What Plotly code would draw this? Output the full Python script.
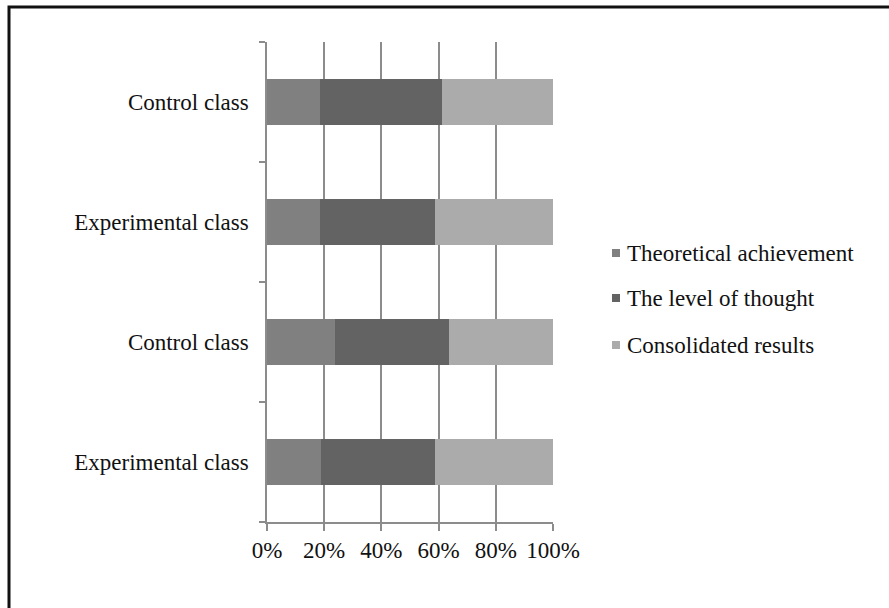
import plotly.graph_objects as go

# Groups listed bottom to top (same labels appear twice, so a numeric axis is used)
groups = ["Experimental class", "Control class", "Experimental class", "Control class"]
series_names = ["Theoretical achievement", "The level of thought", "Consolidated results"]
theoretical = [18.9, 23.8, 18.5, 18.5]
thought = [39.8, 39.9, 40.2, 42.7]
consolidated = [41.3, 36.3, 41.3, 38.8]
series_values = [theoretical, thought, consolidated]
colors = ["#808080", "#636363", "#ababab"]
x_ticks = [0, 20, 40, 60, 80, 100]
x_labels = ["0%", "20%", "40%", "60%", "80%", "100%"]

FONT = "Liberation Serif"
FSIZE = 23
GRID = "#8c8c8c"
positions = list(range(len(groups)))

# Plot area in pixels (used to place paper-referenced decorations)
W, H = 889, 608
L, R, T, B = 267, 336, 42, 86
PW, PH = W - L - R, H - T - B


def px_x(px):
    return (px - L) / PW


def px_y(py):
    return (H - B - py) / PH


fig = go.Figure()
for name, vals, col in zip(series_names, series_values, colors):
    fig.add_trace(go.Bar(
        y=positions, x=vals, name=name, orientation="h",
        marker=dict(color=col, line=dict(width=0)),
        width=0.385, showlegend=False,
    ))

# Hand-drawn legend: small squares plus text
leg_rows = [253, 298, 345]
for name, col, row in zip(series_names, colors, leg_rows):
    fig.add_shape(type="rect", xref="paper", yref="paper",
                  x0=px_x(612), x1=px_x(620), y0=px_y(row + 4), y1=px_y(row - 4),
                  fillcolor=col, line=dict(width=0))
    fig.add_annotation(x=px_x(625), y=px_y(row), xref="paper", yref="paper",
                       text=name, showarrow=False, xanchor="left", yanchor="middle",
                       font=dict(family=FONT, size=FSIZE, color="#111"))

# Outer frame
fig.add_shape(type="rect", xref="paper", yref="paper",
              x0=px_x(9), x1=px_x(905), y0=px_y(7), y1=px_y(625),
              line=dict(color="#111", width=3), layer="above")

fig.update_layout(
    width=W, height=H,
    margin=dict(l=L, r=R, t=T, b=B),
    barmode="stack",
    paper_bgcolor="white", plot_bgcolor="white",
    font=dict(family=FONT, size=FSIZE, color="#111"),
    xaxis=dict(
        range=[0, 100], tickvals=x_ticks, ticktext=x_labels,
        showgrid=True, gridcolor=GRID, gridwidth=1.5,
        showline=True, linecolor=GRID, linewidth=1.5,
        ticks="outside", ticklen=7, tickcolor=GRID, tickwidth=1.5,
        zeroline=False, fixedrange=True,
    ),
    yaxis=dict(
        range=[-0.5, 3.5], tickvals=positions, ticktext=groups,
        showgrid=False, zeroline=False,
        showline=True, linecolor=GRID, linewidth=1.5,
        ticks="", ticklabelstandoff=12,
        minor=dict(tickvals=[-0.5, 0.5, 1.5, 2.5, 3.5], ticks="outside",
                   ticklen=6, tickcolor=GRID, tickwidth=1.5, showgrid=False),
    ),
)

fig.write_html("out.html")
